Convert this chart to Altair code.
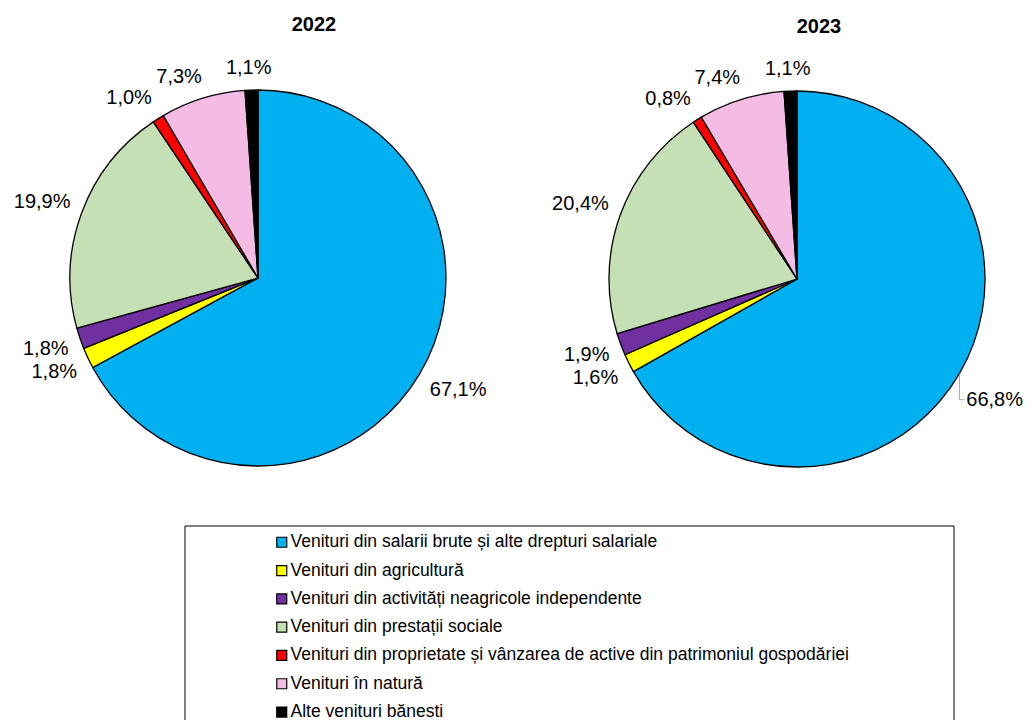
import altair as alt
import pandas as pd

categories = [
    "Venituri din salarii brute și alte drepturi salariale",
    "Venituri din agricultură",
    "Venituri din activități neagricole independente",
    "Venituri din prestații sociale",
    "Venituri din proprietate și vânzarea de active din patrimoniul gospodăriei",
    "Venituri în natură",
    "Alte venituri bănesti",
]
colors = ["#00B0F0", "#FFFF00", "#7030A0", "#C5E0B4", "#FF0000", "#F4BCE4", "#000000"]
years = ["2022", "2023"]
values_2022 = [67.1, 1.8, 1.8, 19.9, 1.0, 7.3, 1.1]
values_2023 = [66.8, 1.6, 1.9, 20.4, 0.8, 7.4, 1.1]

rows = []
for yr, vals in zip(years, [values_2022, values_2023]):
    for i, (c, v) in enumerate(zip(categories, vals)):
        rows.append({"year": yr, "category": c, "idx": i, "value": v})
df = pd.DataFrame(rows)

W, H = 1016, 712
R = 188
CX = {"2022": 250, "2023": 789}
CY = {"2022": 270, "2023": 271}
FS = 20
GAP = 12
HH = 10

base = alt.Chart(df)

color = alt.Color(
    "category:N",
    sort=categories,
    scale=alt.Scale(domain=categories, range=colors),
    legend=alt.Legend(
        orient="none", legendX=265, legendY=525.5, title=None,
        symbolType="square", symbolSize=100, symbolStrokeColor="black",
        symbolStrokeWidth=1.2, labelFont="Liberation Sans", labelFontSize=17.5,
        labelColor="black", rowPadding=9.3, labelOffset=0, labelLimit=900,
        padding=0, offset=0,
    ),
)

layers = []
for yr in years:
    arc = base.transform_filter(alt.datum.year == yr).mark_arc(
        radius=R, stroke="black", strokeWidth=1.3
    ).encode(
        theta=alt.Theta("value:Q", stack=True),
        color=color,
        order=alt.Order("idx:Q"),
        x=alt.value(CX[yr]),
        y=alt.value(CY[yr]),
    )
    layers.append(arc)

xs = alt.Scale(domain=[0, W], range=[0, W], nice=False, zero=False)
ys = alt.Scale(domain=[0, H], range=[0, H], nice=False, zero=False)

lab = base.transform_window(
    cum="sum(value)", groupby=["year"], sort=[alt.SortField("idx")], frame=[None, 0]
).transform_calculate(
    label="replace(format(datum.value, '.1f'), '.', ',') + '%'",
    mid="(datum.cum - datum.value / 2) / 100 * 2 * PI",
    cx=f"datum.year == '2022' ? {CX['2022']} : {CX['2023']}",
    cy=f"datum.year == '2022' ? {CY['2022']} : {CY['2023']}",
).transform_calculate(
    sx="sin(datum.mid)",
    sy="-cos(datum.mid)",
    hw=f"{FS} * (0.556 * (length(datum.label) - 2) + 1.167) / 2",
).transform_calculate(
    lx0=f"datum.cx + {R + GAP} * datum.sx + datum.hw * clamp(3 * datum.sx, -1, 1)",
    ly0=f"datum.cy + {R + GAP} * datum.sy + {HH} * clamp(2 * datum.sy, -1, 1)",
    ex=f"datum.cx + {R} * datum.sx",
    ey=f"datum.cy + {R} * datum.sy",
).transform_calculate(
    moved=f"datum.lx0 + datum.hw > {W - 1}",
).transform_calculate(
    lx=f"datum.moved ? {W - 1} - datum.hw : datum.lx0",
    ly=f"datum.moved ? datum.ly0 + {HH} : datum.ly0",
).transform_calculate(
    lleft="datum.lx - datum.hw - 2",
)

labels = lab.mark_text(
    font="Liberation Sans", fontSize=FS, align="center", baseline="middle", color="black"
).encode(
    x=alt.X("lx:Q", scale=xs, axis=None),
    y=alt.Y("ly:Q", scale=ys, axis=None),
    text="label:N",
)

leader_v = lab.transform_filter("datum.moved").mark_rule(color="#A6A6A6", strokeWidth=1).encode(
    x=alt.X("ex:Q", scale=xs, axis=None),
    y=alt.Y("ey:Q", scale=ys, axis=None),
    y2="ly:Q",
)
leader_h = lab.transform_filter("datum.moved").mark_rule(color="#A6A6A6", strokeWidth=1).encode(
    x=alt.X("ex:Q", scale=xs, axis=None),
    x2="lleft:Q",
    y=alt.Y("ly:Q", scale=ys, axis=None),
)
layers += [leader_v, leader_h, labels]

one = alt.Chart(pd.DataFrame({"a": [0]}))
title_pos = {"2022": (306, 17), "2023": (811, 19)}
for yr in years:
    t = one.mark_text(
        text=yr, font="Liberation Sans", fontSize=20, fontWeight="bold",
        align="center", baseline="middle", color="black"
    ).encode(x=alt.value(title_pos[yr][0]), y=alt.value(title_pos[yr][1]))
    layers.append(t)

box = one.mark_rect(fillOpacity=0, stroke="black", strokeWidth=1).encode(
    x=alt.value(177), x2=alt.value(946), y=alt.value(518), y2=alt.value(760)
)
layers.insert(0, box)

chart = alt.layer(*layers).properties(
    width=W, height=H, padding=0, autosize=alt.AutoSizeParams(type="none")
).configure_view(strokeWidth=0)

chart.save("out.html", embed_options={"renderer": "svg", "actions": False})
